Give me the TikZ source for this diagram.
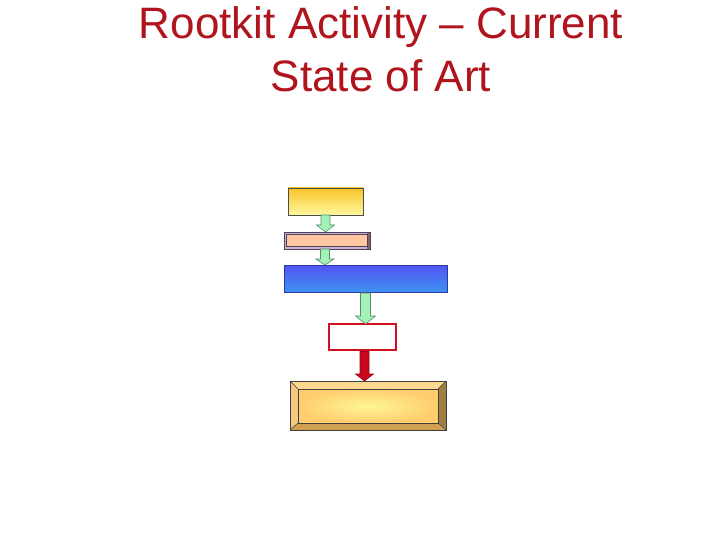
\documentclass[tikz,border=0pt]{standalone}
\usepackage{fontspec}
\setmainfont{Liberation Sans}
\usetikzlibrary{calc}
\definecolor{titlered}{HTML}{B0141C}
\definecolor{arrgreen}{HTML}{A2F2B8}
\definecolor{arrgreenline}{HTML}{5A8A6A}
\definecolor{boxred}{HTML}{D0101E}
\definecolor{darkred}{HTML}{C8061C}
\definecolor{yeltop}{RGB}{248,196,40}
\definecolor{yelbot}{RGB}{255,248,160}
\definecolor{peachline}{RGB}{80,64,96}
\definecolor{peachframe}{RGB}{200,178,205}
\definecolor{peach}{RGB}{255,198,160}
\definecolor{peachdark}{RGB}{130,100,105}
\definecolor{blueline}{RGB}{40,60,160}
\definecolor{bluetop}{RGB}{84,84,242}
\definecolor{bluebot}{RGB}{60,146,242}
\definecolor{bevtop}{RGB}{255,216,144}
\definecolor{bevleft}{RGB}{245,200,128}
\definecolor{bevright}{RGB}{160,128,64}
\definecolor{bevbot}{RGB}{208,160,80}
\definecolor{goldin}{RGB}{255,246,150}
\definecolor{goldout}{RGB}{255,205,110}
\newcommand{\blkarrow}[5]{%
  % #1 style, #2 from, #3 to, #4 shaft half width, #5 head length
  \draw[#1] let \p1=(#2), \p2=(#3) in
    ({\x1-#4},{\y1}) -- ({\x1-#4},{\y2+#5}) -- ({\x1-2*#4},{\y2+#5}) --
    ({\x1},{\y2}) -- ({\x1+2*#4},{\y2+#5}) -- ({\x1+#4},{\y2+#5}) --
    ({\x1+#4},{\y1}) -- cycle;}
\begin{document}
\begin{tikzpicture}[x=1pt,y=-1pt,
  box/.style={inner sep=0pt, outer sep=0pt},
  greenarrow/.style={fill=arrgreen, draw=arrgreenline, line width=0.6pt, line join=miter},
  redarrow/.style={fill=darkred, draw=darkred!75!black, line width=0.6pt}]
\useasboundingbox (0,0) rectangle (720,540);
% title
\node[text=titlered, font=\fontsize{44}{53}\selectfont, align=center] (title) at (381,49)
  {Rootkit Activity -- Current\\State of Art};
% box 1
\node[box, minimum width=75pt, minimum height=27pt, draw=black!70, line width=0.6pt,
  top color=yeltop, bottom color=yelbot] (b1) at (325.5,201.5) {};
% box 2
\node[box, minimum width=86pt, minimum height=17pt, fill=peachframe] (b2) at (327,240.5) {};
\fill[peach] ($(b2.north west)+(2.5,2.5)$) rectangle ($(b2.south east)+(-3,-2.5)$);
\fill[peachdark] ($(b2.north east)+(-3,0)$) rectangle (b2.south east);
\draw[peachline, line width=0.7pt] (b2.north west) rectangle (b2.south east);
\draw[peachline, line width=0.5pt] ($(b2.north west)+(2.5,2.5)$) rectangle ($(b2.south east)+(-3,-2.5)$);
% box 3
\node[box, minimum width=163pt, minimum height=27pt, draw=blueline, line width=0.6pt,
  top color=bluetop, bottom color=bluebot] (b3) at (365.5,278.5) {};
% box 4
\node[box, minimum width=67pt, minimum height=26pt, draw=boxred, line width=2.6pt, fill=white] (b4) at (362.5,337) {};
% box 5 (bevelled)
\node[box, minimum width=156pt, minimum height=49pt] (b5) at (368,405.5) {};
\coordinate (i1) at ($(b5.north west)+(8,8)$);
\coordinate (i2) at ($(b5.south east)+(-8,-7)$);
\fill[bevtop] (b5.north west) -- (b5.north east) -- (i2 |- i1) -- (i1) -- cycle;
\fill[bevleft] (b5.north west) -- (i1) -- (i1 |- i2) -- (b5.south west) -- cycle;
\fill[bevright] (b5.north east) -- (b5.south east) -- (i2) -- (i2 |- i1) -- cycle;
\fill[bevbot] (b5.south west) -- (i1 |- i2) -- (i2) -- (b5.south east) -- cycle;
\shade[inner color=goldin, outer color=goldout] (i1) rectangle (i2);
\draw[black!75, line width=0.6pt] (b5.north west) rectangle (b5.south east);
\draw[black!75, line width=0.6pt] (i1) rectangle (i2);
\draw[black!75, line width=0.5pt] (b5.north west) -- (i1) (b5.north east) -- (i2 |- i1)
  (b5.south west) -- (i1 |- i2) (b5.south east) -- (i2);
% arrows
\blkarrow{greenarrow}{b1.south}{b2.north}{4.5pt}{7pt}
\blkarrow{greenarrow}{$(b2.south)+(-2,0)$}{b3.north}{4.5pt}{6pt}
\blkarrow{greenarrow}{$(b3.south)+(0,1)$}{b4.north}{5pt}{8pt}
\blkarrow{redarrow}{$(b4.south)+(2,1.5)$}{b5.north}{4.5pt}{7pt}
\end{tikzpicture}
\end{document}
